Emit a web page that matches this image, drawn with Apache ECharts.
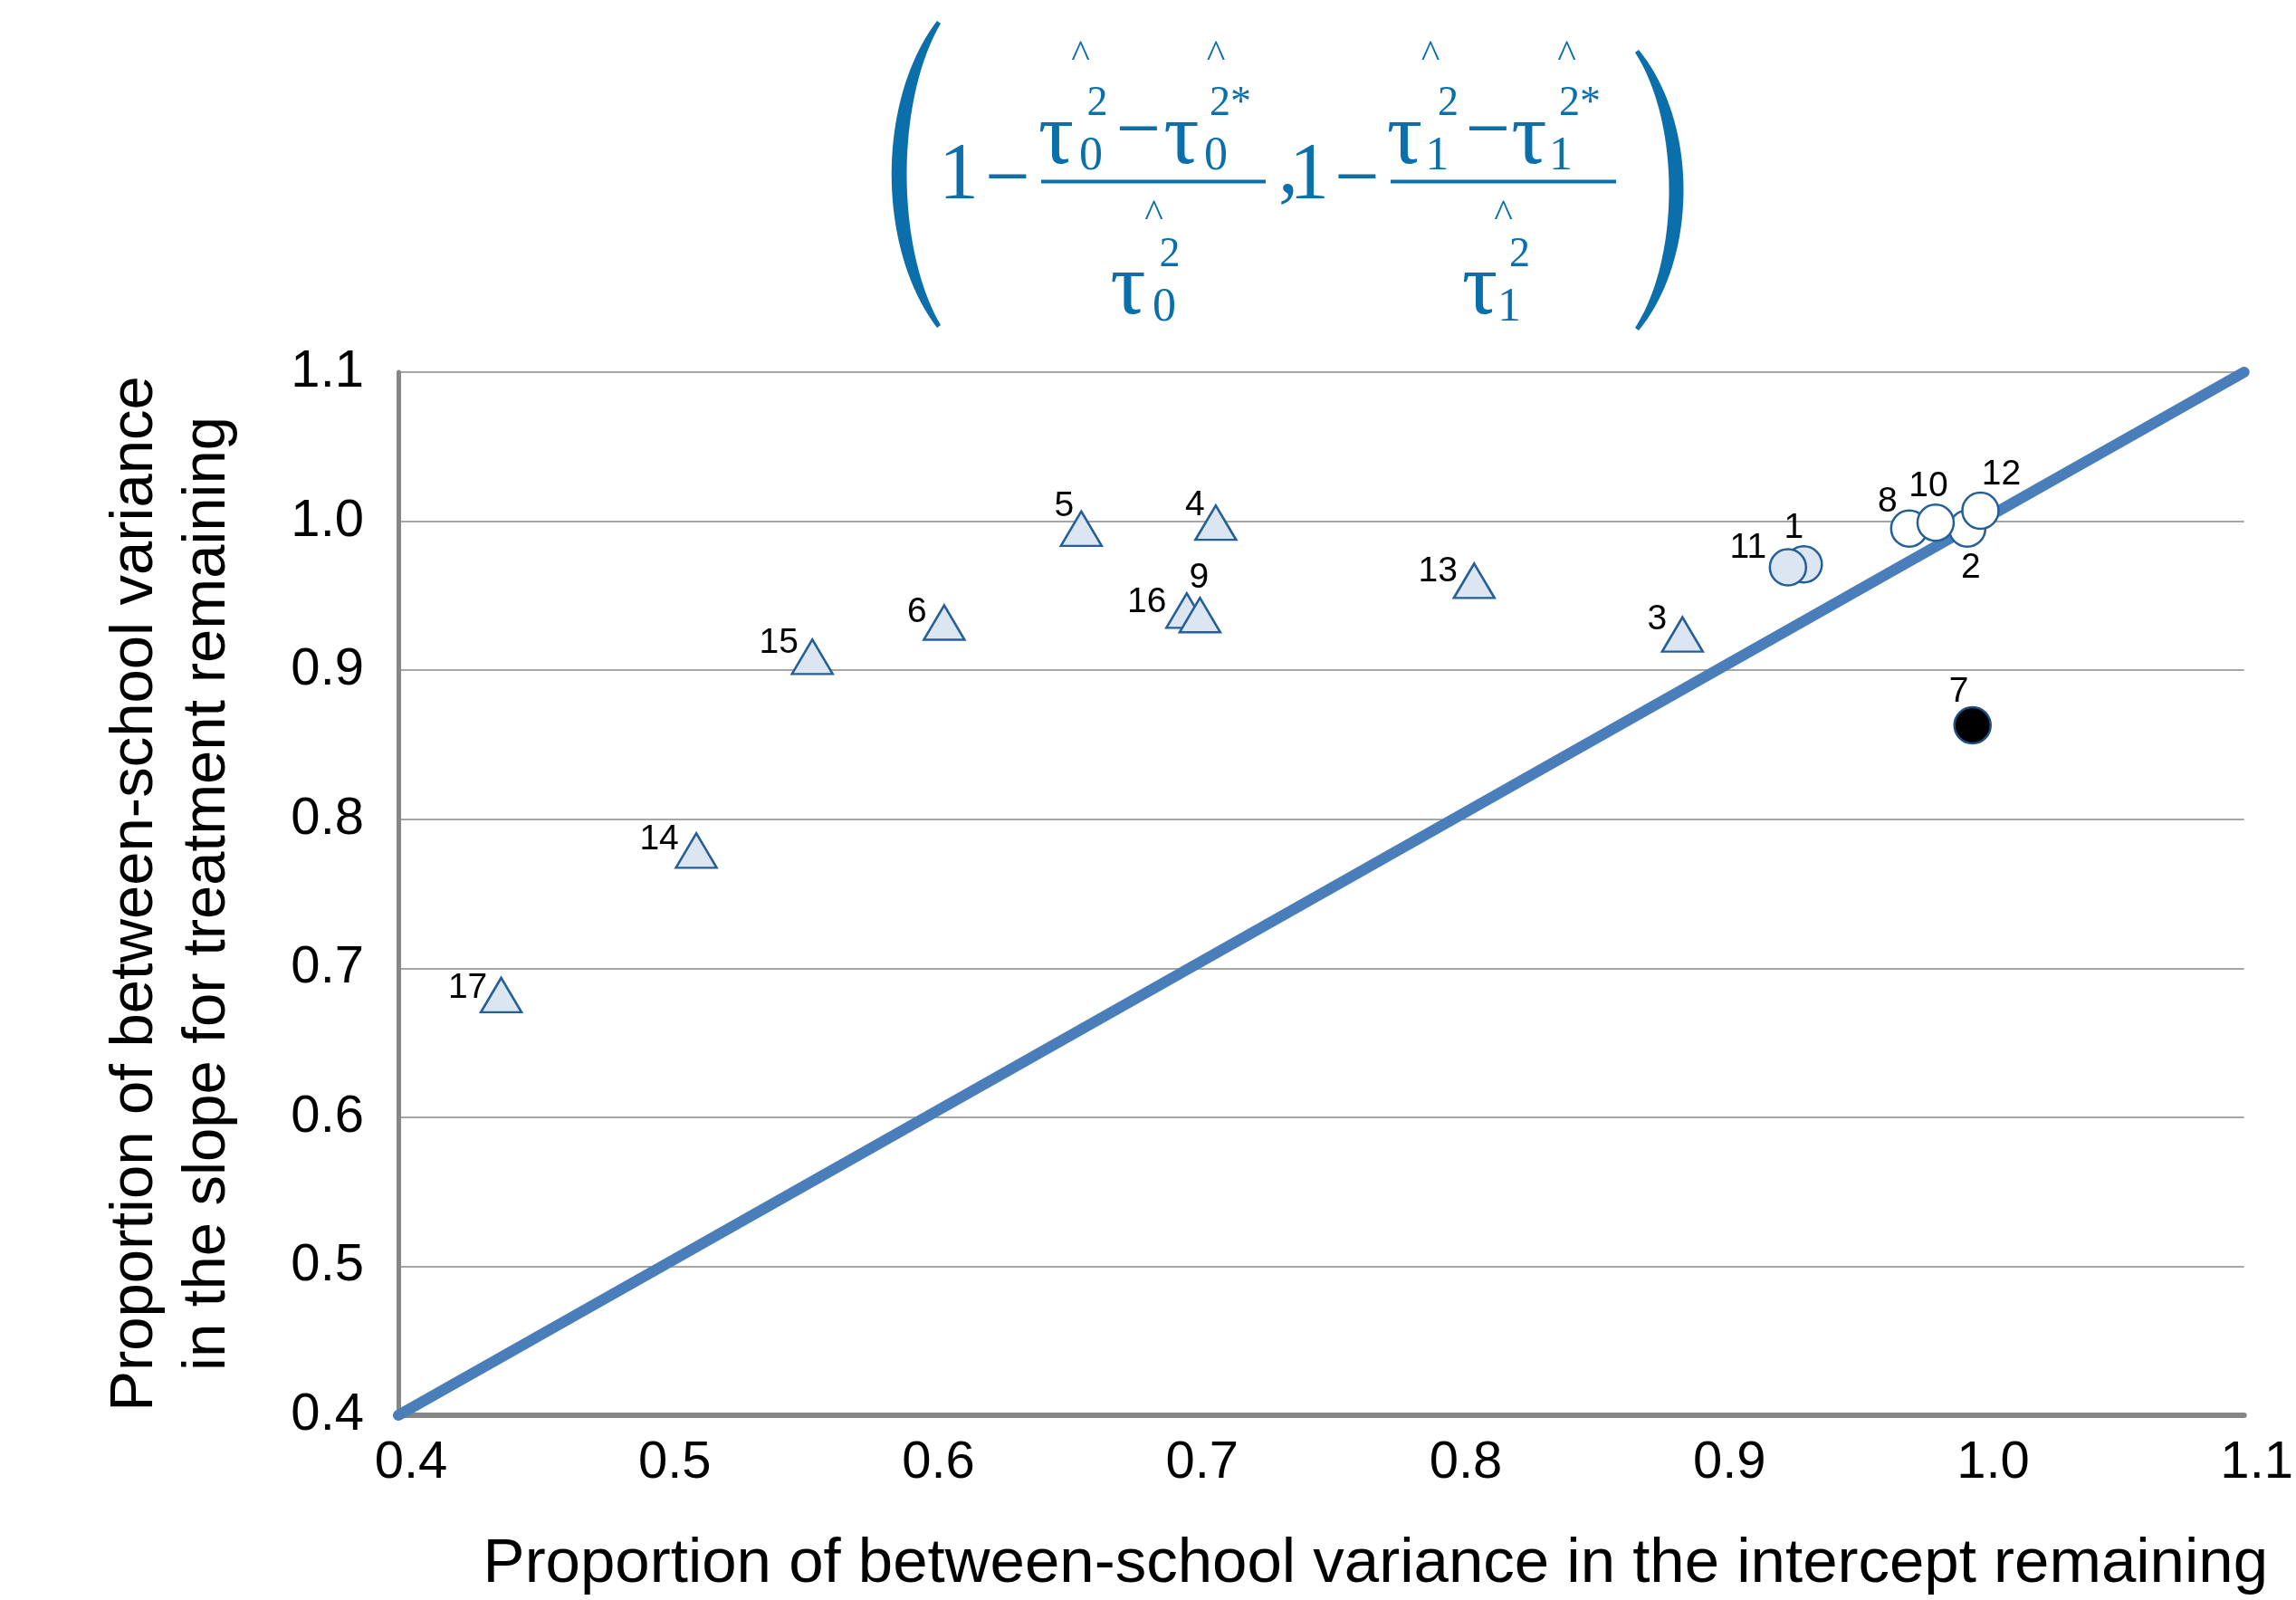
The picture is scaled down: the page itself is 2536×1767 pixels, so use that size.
<!DOCTYPE html>
<html>
<head>
<meta charset="utf-8">
<script src="https://cdn.jsdelivr.net/npm/echarts@6/dist/echarts.min.js"></script>
<style>
  html, body { margin: 0; padding: 0; background: #fff; }
  #chart { width: 2536px; height: 1767px; }
</style>
</head>
<body>
<div id="chart"></div>
<script>
// points listed in drawing order (later ones sit on top)
var ids   = ['17', '14', '15', '6', '5', '16', '9', '4', '13', '3', '1', '11', '8', '2', '10', '12', '7'];
var xVals = [0.439, 0.513, 0.557, 0.607, 0.659, 0.699, 0.704, 0.710, 0.808, 0.887, 0.933, 0.927, 0.973, 0.995, 0.983, 1.000, 0.997];
var yVals = [0.682, 0.779, 0.909, 0.932, 0.995, 0.940, 0.937, 0.999, 0.960, 0.924, 0.971, 0.969, 0.995, 0.995, 0.999, 1.007, 0.863];
var kinds = ['tri', 'tri', 'tri', 'tri', 'tri', 'tri', 'tri', 'tri', 'tri', 'tri', 'circ', 'circ', 'open', 'open', 'open', 'open', 'black'];

// reference line y = x
var refLine = [[0.4, 0.4], [1.1, 1.1]];

var axisTicks = [0.4, 0.5, 0.6, 0.7, 0.8, 0.9, 1.0, 1.1];

var xTitle = 'Proportion of between-school variance in the intercept remaining';
var yTitle = 'Proportion of between-school variance\nin the slope for treatment remaining';

// where each number label sits relative to its marker (px)
var labelOffsets = {
    '1': [-11, -40], '2': [4, 43], '3': [-28, -16], '4': [-23, -19], '5': [-19, -25],
    '6': [-30, -11], '7': [-15, -37], '8': [-24, -30], '9': [-1, -41], '10': [-8, -40],
    '11': [-44, -21], '12': [23, -40], '13': [-40, -10], '14': [-41, -12], '15': [-37, -15],
    '16': [-44, -9], '17': [-37, -8]
};

var markerStyle = {
    tri:   { symbol: 'triangle', size: [45, 38], fill: '#dce6f2', stroke: '#245f98' },
    circ:  { symbol: 'circle', size: 40, fill: '#dce6f2', stroke: '#245f98' },
    open:  { symbol: 'circle', size: 40, fill: '#ffffff', stroke: '#245f98' },
    black: { symbol: 'circle', size: 40, fill: '#000000', stroke: '#1f4f80' }
};

function buildSeries(kind) {
    var st = markerStyle[kind];
    var data = [];
    for (var i = 0; i < ids.length; i++) {
        if (kinds[i] !== kind) continue;
        data.push({
            name: ids[i],
            value: [xVals[i], yVals[i]],
            label: { offset: labelOffsets[ids[i]] }
        });
    }
    return {
        type: 'scatter',
        symbol: st.symbol,
        symbolSize: st.size,
        itemStyle: { color: st.fill, borderColor: st.stroke, borderWidth: 2.5, opacity: 1 },
        label: {
            show: true,
            position: 'inside',
            formatter: '{b}',
            color: '#000',
            fontSize: 39,
            fontFamily: 'Liberation Sans'
        },
        emphasis: { disabled: true },
        z: 3,
        data: data
    };
}

// formula on top
var fc = '#0b6fab';
var serif = 'Liberation Serif';
function t(text, x, y, size, align) {
    return {
        type: 'text',
        style: {
            text: text, x: x, y: y,
            fontSize: size, fontFamily: serif, fill: fc,
            align: align || 'center', verticalAlign: 'middle',
            textAlign: align || 'center', textVerticalAlign: 'middle'
        }
    };
}
// a tall thin parenthesis as a polygon between two cubic curves
function cubic(p0, c1, c2, p3, s) {
    var u = 1 - s;
    return [
        u * u * u * p0[0] + 3 * u * u * s * c1[0] + 3 * u * s * s * c2[0] + s * s * s * p3[0],
        u * u * u * p0[1] + 3 * u * u * s * c1[1] + 3 * u * s * s * c2[1] + s * s * s * p3[1]
    ];
}
function paren(top, bottom, tipX, outerCx, innerCx, tipW) {
    var pts = [], n = 40, k;
    var h = bottom - top;
    for (k = 0; k <= n; k++) {
        pts.push(cubic([tipX, top], [outerCx, top + h * 0.26], [outerCx, top + h * 0.74], [tipX, bottom], k / n));
    }
    for (k = n; k >= 0; k--) {
        pts.push(cubic([tipX + tipW, top + 3], [innerCx, top + h * 0.26], [innerCx, top + h * 0.74], [tipX + tipW, bottom - 3], k / n));
    }
    return { type: 'polygon', shape: { points: pts }, style: { fill: fc } };
}
var M = 88, TAU = 98, SUP = 46, SUB = 52, HAT = 44;
var formula = [
    paren(23, 362, 1035, 968, 989, 4),
    paren(55, 365, 1810, 1876, 1856, -4),
    t('1', 1059, 195, M),
    t('\u2212', 1113, 201, M),
    { type: 'rect', shape: { x: 1150, y: 198.5, width: 248, height: 4 }, style: { fill: fc } },
    t('\u03c4', 1166.5, 154, TAU), t('^', 1193.5, 62, HAT), t('2', 1212, 115, SUP), t('0', 1205, 173, SUB),
    t('\u2212', 1257.5, 148, M),
    t('\u03c4', 1305, 154, TAU), t('^', 1343, 62, HAT), t('2*', 1336, 115, SUP, 'left'), t('0', 1343, 173, SUB),
    t('\u03c4', 1246, 320, TAU), t('^', 1274.5, 238, HAT), t('2', 1292, 282, SUP), t('0', 1286, 340, SUB),
    t(',', 1423, 189, M),
    t('1', 1446, 195, M),
    t('\u2212', 1499, 201, M),
    { type: 'rect', shape: { x: 1536, y: 198.5, width: 249, height: 4 }, style: { fill: fc } },
    t('\u03c4', 1551.5, 154, TAU), t('^', 1580, 62, HAT), t('2', 1599.5, 115, SUP), t('1', 1587.5, 173, SUB),
    t('\u2212', 1643.5, 148, M),
    t('\u03c4', 1689, 154, TAU), t('^', 1730.5, 62, HAT), t('2*', 1722, 115, SUP, 'left'), t('1', 1724, 173, SUB),
    t('\u03c4', 1634.5, 320, TAU), t('^', 1660.5, 238, HAT), t('2', 1678.5, 282, SUP), t('1', 1667, 340, SUB)
];

var myChart = echarts.init(document.getElementById('chart'));

var option = {
    backgroundColor: '#ffffff',
    animation: false,
    grid: { left: 440, right: 46, top: 411, bottom: 203, containLabel: false },
    xAxis: {
        type: 'value',
        min: axisTicks[0],
        max: axisTicks[axisTicks.length - 1],
        interval: 0.1,
        name: xTitle,
        nameLocation: 'middle',
        nameGap: 130,
        nameTextStyle: { fontSize: 69, fontFamily: 'Liberation Sans', color: '#000', padding: [0, 0, 0, 120] },
        axisLine: { show: true, lineStyle: { color: '#868686', width: 6, cap: 'round' } },
        axisTick: { show: false },
        splitLine: { show: false },
        axisLabel: {
            showMinLabel: true, showMaxLabel: true,
            fontSize: 58, fontFamily: 'Liberation Sans', color: '#000',
            margin: 24, padding: [0, 0, 0, 28],
            formatter: function (v) { return v.toFixed(1); }
        }
    },
    yAxis: {
        type: 'value',
        min: axisTicks[0],
        max: axisTicks[axisTicks.length - 1],
        interval: 0.1,
        name: yTitle,
        nameLocation: 'middle',
        nameRotate: 90,
        nameGap: 170,
        nameTextStyle: { fontSize: 67, lineHeight: 80, fontFamily: 'Liberation Sans', color: '#000', align: 'center' },
        axisLine: { show: true, lineStyle: { color: '#868686', width: 5 } },
        axisTick: { show: false },
        splitLine: { show: true, lineStyle: { color: '#a6a6a6', width: 2 } },
        axisLabel: {
            showMinLabel: true, showMaxLabel: true,
            fontSize: 58, fontFamily: 'Liberation Sans', color: '#000',
            margin: 38, padding: [0, 0, 30, 0],
            formatter: function (v) { return v.toFixed(1); }
        }
    },
    graphic: formula,
    series: [
        {
            type: 'line',
            data: refLine,
            symbol: 'none',
            clip: false,
            lineStyle: { color: '#4a7ebb', width: 12, cap: 'round' },
            emphasis: { disabled: true },
            z: 2
        },
        buildSeries('tri'),
        buildSeries('circ'),
        buildSeries('open'),
        buildSeries('black')
    ]
};
myChart.setOption(option);
</script>
</body>
</html>
